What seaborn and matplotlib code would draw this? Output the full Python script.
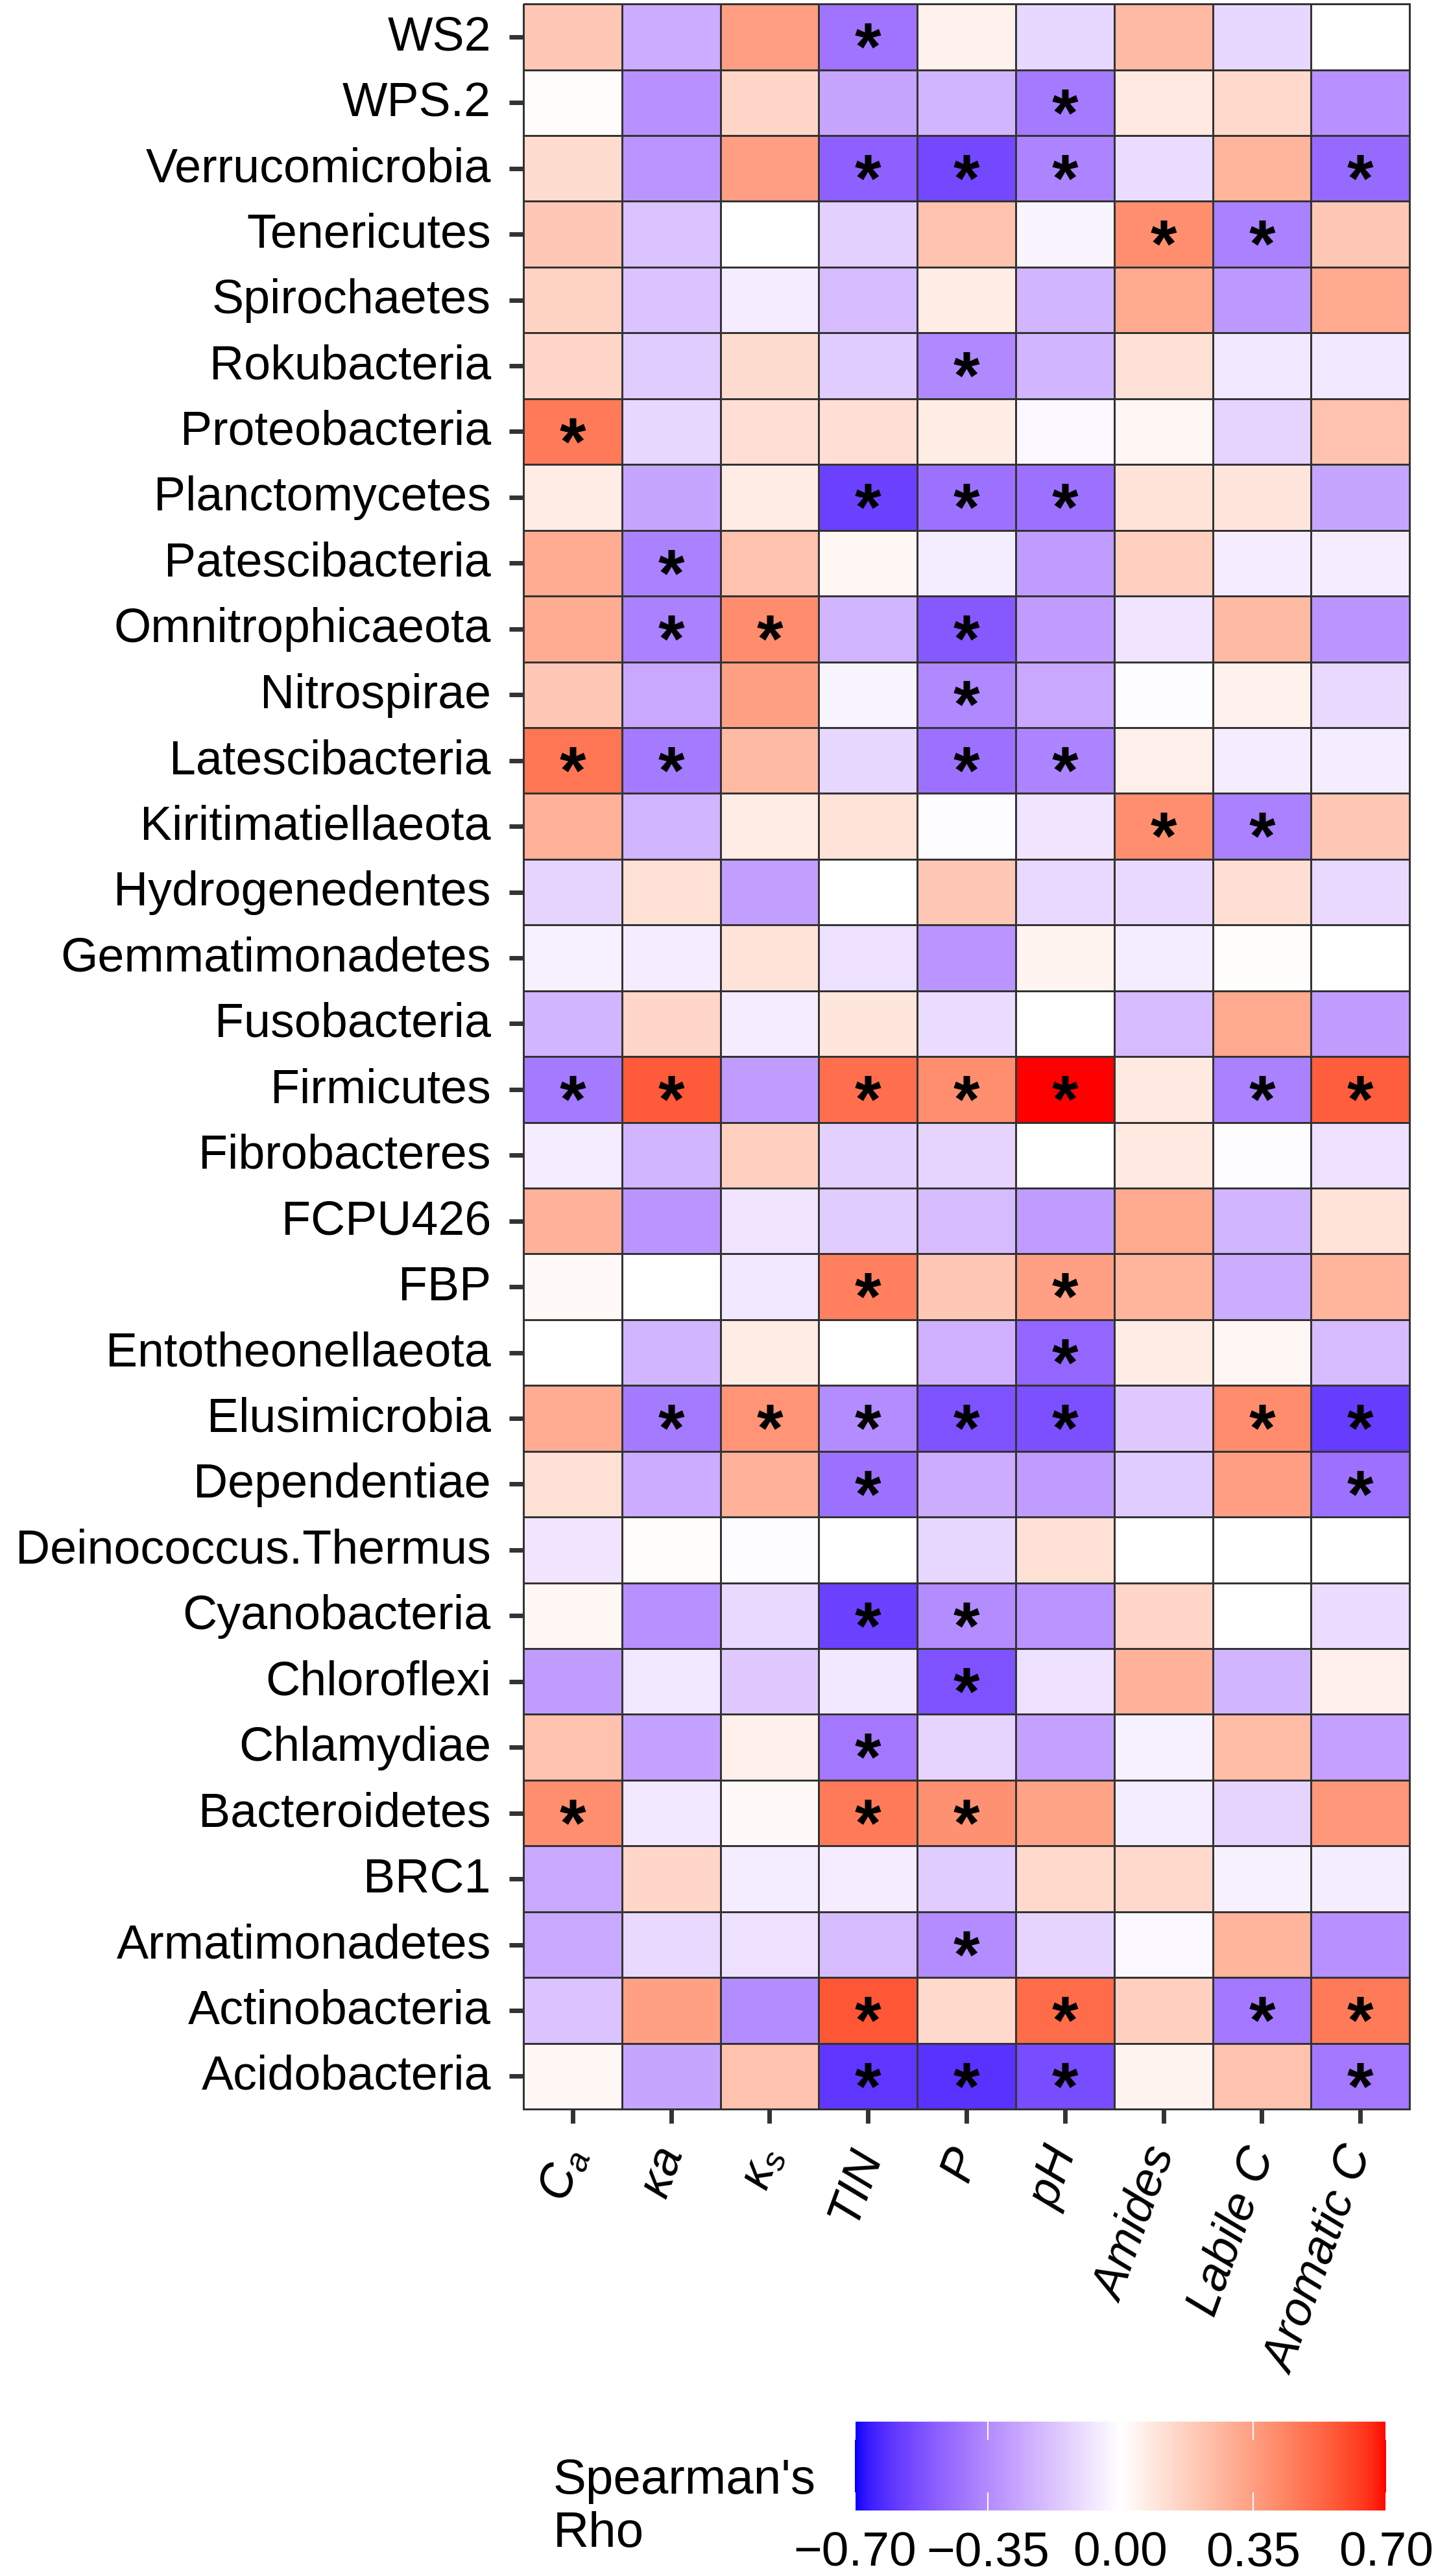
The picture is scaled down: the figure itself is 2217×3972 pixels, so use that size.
import numpy as np
import pandas as pd
import matplotlib
matplotlib.use("Agg")
import matplotlib.pyplot as plt
from matplotlib.colors import LinearSegmentedColormap, to_rgb
from matplotlib.transforms import ScaledTranslation
import seaborn as sns

plt.rcParams.update({
    "font.family": ["Liberation Sans", "DejaVu Sans"],
    "mathtext.fontset": "custom",
    "mathtext.rm": "Liberation Sans",
    "mathtext.it": "Liberation Sans:italic",
    "mathtext.bf": "Liberation Sans:bold",
    "font.size": 53,
})

# rows top -> bottom as drawn
phyla = ["WS2", "WPS.2", "Verrucomicrobia", "Tenericutes", "Spirochaetes",
         "Rokubacteria", "Proteobacteria", "Planctomycetes", "Patescibacteria",
         "Omnitrophicaeota", "Nitrospirae", "Latescibacteria", "Kiritimatiellaeota",
         "Hydrogenedentes", "Gemmatimonadetes", "Fusobacteria", "Firmicutes",
         "Fibrobacteres", "FCPU426", "FBP", "Entotheonellaeota", "Elusimicrobia",
         "Dependentiae", "Deinococcus.Thermus", "Cyanobacteria", "Chloroflexi",
         "Chlamydiae", "Bacteroidetes", "BRC1", "Armatimonadetes",
         "Actinobacteria", "Acidobacteria"]

variables = [r"$C_a$", r"$\kappa a$", r"$\kappa_s$", "TIN", "P", "pH",
             "Amides", "Labile C", "Aromatic C"]

rho_ca = [0.20, 0.01, 0.13, 0.20, 0.16, 0.15, 0.47, 0.07, 0.30, 0.30, 0.20,
          0.48, 0.28, -0.13, -0.04, -0.22, -0.40, -0.05, 0.28, 0.02, 0.00,
          0.30, 0.11, -0.08, 0.03, -0.30, 0.22, 0.40, -0.26, -0.26, -0.18, 0.03]
rho_ka = [-0.25, -0.33, -0.32, -0.18, -0.18, -0.15, -0.12, -0.27, -0.38, -0.38,
          -0.26, -0.40, -0.22, 0.11, -0.05, 0.15, 0.56, -0.22, -0.32, 0.00,
          -0.22, -0.40, -0.25, 0.01, -0.33, -0.07, -0.28, -0.07, 0.15, -0.11,
          0.34, -0.27]
rho_ks = [0.35, 0.15, 0.35, 0.00, -0.05, 0.13, 0.12, 0.07, 0.22, 0.41, 0.34,
          0.25, 0.07, -0.29, 0.10, -0.05, -0.30, 0.17, -0.08, -0.07, 0.07,
          0.38, 0.28, -0.01, -0.11, -0.16, 0.06, 0.02, -0.06, -0.09, -0.35, 0.22]
rho_tin = [-0.42, -0.27, -0.48, -0.14, -0.20, -0.15, 0.12, -0.57, 0.03, -0.22,
           -0.03, -0.12, 0.10, 0.00, -0.09, 0.09, 0.50, -0.14, -0.15, 0.45,
           0.00, -0.35, -0.43, 0.00, -0.57, -0.07, -0.41, 0.47, -0.05, -0.20,
           0.57, -0.60]
rho_p = [0.05, -0.22, -0.55, 0.22, 0.07, -0.36, 0.07, -0.43, -0.06, -0.50,
         -0.36, -0.43, -0.01, 0.20, -0.32, -0.10, 0.40, -0.13, -0.20, 0.20,
         -0.23, -0.52, -0.25, -0.12, -0.35, -0.52, -0.13, 0.39, -0.15, -0.35,
         0.14, -0.61]
rho_ph = [-0.12, -0.40, -0.37, -0.03, -0.22, -0.22, -0.02, -0.43, -0.30, -0.30,
          -0.26, -0.37, -0.08, -0.11, 0.04, 0.00, 0.70, 0.00, -0.30, 0.34,
          -0.46, -0.53, -0.30, 0.11, -0.32, -0.09, -0.28, 0.33, 0.14, -0.13,
          0.51, -0.54]
rho_amides = [0.25, 0.08, -0.10, 0.40, 0.31, 0.11, 0.03, 0.10, 0.17, -0.08,
              -0.01, 0.06, 0.40, -0.11, -0.06, -0.20, 0.08, 0.08, 0.31, 0.27,
              0.07, -0.16, -0.15, None, 0.15, 0.28, -0.04, -0.06, 0.14, -0.02,
              0.17, 0.04]
rho_labile = [-0.12, 0.14, 0.27, -0.38, -0.31, -0.07, -0.13, 0.09, -0.05, 0.25,
              0.05, -0.05, -0.38, 0.12, 0.01, 0.31, -0.38, -0.01, -0.22, -0.25,
              0.03, 0.41, 0.35, None, 0.00, -0.22, 0.24, -0.13, -0.04, 0.27,
              -0.41, 0.22]
rho_aromatic = [0.00, -0.33, -0.45, 0.20, 0.31, -0.07, 0.22, -0.27, -0.05, -0.32,
                -0.11, -0.05, 0.20, -0.11, 0.00, -0.30, 0.55, -0.09, 0.10, 0.27,
                -0.20, -0.58, -0.43, None, -0.10, 0.06, -0.28, 0.37, -0.06, -0.33,
                0.47, -0.41]

# phyla with p < 0.05 for each variable
sig_ca = ["Proteobacteria", "Latescibacteria", "Firmicutes", "Bacteroidetes"]
sig_ka = ["Patescibacteria", "Omnitrophicaeota", "Latescibacteria", "Firmicutes",
          "Elusimicrobia"]
sig_ks = ["Omnitrophicaeota", "Elusimicrobia"]
sig_tin = ["WS2", "Verrucomicrobia", "Planctomycetes", "Firmicutes", "FBP",
           "Elusimicrobia", "Dependentiae", "Cyanobacteria", "Chlamydiae",
           "Bacteroidetes", "Actinobacteria", "Acidobacteria"]
sig_p = ["Verrucomicrobia", "Rokubacteria", "Planctomycetes", "Omnitrophicaeota",
         "Nitrospirae", "Latescibacteria", "Firmicutes", "Elusimicrobia",
         "Cyanobacteria", "Chloroflexi", "Bacteroidetes", "Armatimonadetes",
         "Acidobacteria"]
sig_ph = ["WPS.2", "Verrucomicrobia", "Planctomycetes", "Latescibacteria",
          "Firmicutes", "FBP", "Entotheonellaeota", "Elusimicrobia",
          "Actinobacteria", "Acidobacteria"]
sig_amides = ["Tenericutes", "Kiritimatiellaeota"]
sig_labile = ["Tenericutes", "Kiritimatiellaeota", "Firmicutes", "Elusimicrobia",
              "Actinobacteria"]
sig_aromatic = ["Verrucomicrobia", "Firmicutes", "Elusimicrobia", "Dependentiae",
                "Actinobacteria", "Acidobacteria"]

cbar_ticks = [-0.70, -0.35, 0.00, 0.35, 0.70]


def srgb_to_lab(c):
    c = np.asarray(to_rgb(c), float)
    lin = np.where(c <= 0.04045, c / 12.92, ((c + 0.055) / 1.055) ** 2.4)
    xyz = M @ lin / WHITE
    f = np.where(xyz > (6 / 29) ** 3, np.cbrt(xyz), xyz / (3 * (6 / 29) ** 2) + 4 / 29)
    return np.array([116 * f[1] - 16, 500 * (f[0] - f[1]), 200 * (f[1] - f[2])])


def lab_to_srgb(lab):
    fy = (lab[0] + 16) / 116
    f = np.array([fy + lab[1] / 500, fy, fy - lab[2] / 200])
    xyz = np.where(f > 6 / 29, f ** 3, 3 * (6 / 29) ** 2 * (f - 4 / 29)) * WHITE
    lin = np.linalg.solve(M, xyz)
    c = np.where(lin <= 0.0031308, 12.92 * lin, 1.055 * np.abs(lin) ** (1 / 2.4) - 0.055)
    return np.clip(c, 0, 1)


M = np.array([[0.4124564, 0.3575761, 0.1804375],
              [0.2126729, 0.7151522, 0.0721750],
              [0.0193339, 0.1191920, 0.9503041]])
WHITE = np.array([0.95047, 1.0, 1.08883])

# ggplot-like gradient2 (blue - white - red, interpolated in Lab)
low, mid, high = srgb_to_lab("blue"), srgb_to_lab("white"), srgb_to_lab("red")
cols = []
for t in np.linspace(-1, 1, 255):
    lab = mid + (-t) * (low - mid) if t < 0 else mid + t * (high - mid)
    cols.append(lab_to_srgb(lab))
cmap = LinearSegmentedColormap.from_list("gradient2", cols)

rho = pd.DataFrame({"Ca": rho_ca, "ka": rho_ka, "ks": rho_ks, "TIN": rho_tin,
                    "P": rho_p, "pH": rho_ph, "Amides": rho_amides,
                    "Labile": rho_labile, "Aromatic": rho_aromatic},
                   index=phyla, dtype=float)
sig = {"Ca": sig_ca, "ka": sig_ka, "ks": sig_ks, "TIN": sig_tin, "P": sig_p,
       "pH": sig_ph, "Amides": sig_amides, "Labile": sig_labile,
       "Aromatic": sig_aromatic}
stars = pd.DataFrame({k: ["*" if p in v else "" for p in phyla] for k, v in sig.items()},
                     index=phyla)

fig = plt.figure(figsize=(22.17, 39.73), dpi=100)
ax = fig.add_axes([0.364, 0.1812, 0.6162, 0.8170])
cax = fig.add_axes([0.5945, 0.0254, 0.3694, 0.0345])

# nudge the asterisks down a little so they sit near the cell centre
star_shift = ax.transData + ScaledTranslation(0, -0.12, fig.dpi_scale_trans)

sns.heatmap(rho, ax=ax, cmap=cmap, vmin=-0.7, vmax=0.7,
            linewidths=2, linecolor="#333333",
            annot=stars, fmt="",
            annot_kws=dict(fontsize=75, fontweight="bold", color="black",
                           va="center_baseline", transform=star_shift),
            cbar_ax=cax, cbar_kws=dict(orientation="horizontal", ticks=cbar_ticks))
ax.collections[0].set_clip_on(False)

ax.set_xlabel("")
ax.set_ylabel("")
ax.set_xticklabels(variables)
ax.tick_params(axis="both", length=16, width=5, color="#333333", labelsize=53)
ax.tick_params(axis="y", pad=20)
ax.tick_params(axis="x", pad=28)
for lab in ax.get_yticklabels():
    lab.set_rotation(0)
for lab in ax.get_xticklabels():
    lab.set_rotation(70)
    lab.set_ha("right")
    lab.set_va("center")
    lab.set_rotation_mode("anchor")
    lab.set_fontstyle("italic")

cbar = ax.collections[0].colorbar
cbar.outline.set_visible(False)
cbar.set_ticklabels([f"{v:.2f}".replace("-", "\u2212") for v in cbar_ticks])
cbar.ax.tick_params(axis="x", direction="in", length=20, width=1.5, color="white",
                    top=True, bottom=True, labelsize=54, pad=22)

fig.text(853 / 2217, 1 - 3927 / 3973, "Spearman's\nRho", ha="left", va="baseline",
         fontsize=55, linespacing=1.2)

fig.savefig("out.png", dpi=100, facecolor="white")
